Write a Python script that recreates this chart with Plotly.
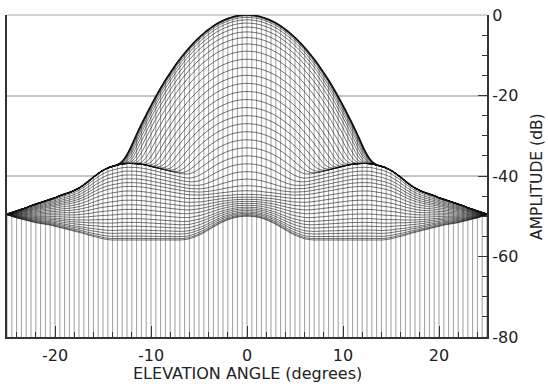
import numpy as np
import plotly.graph_objects as go

# Elevation sample positions (degrees, one side; pattern is symmetric)
THETA_HALF = [i * 0.5 for i in range(51)]

# Main-beam profile of the top cut (dB), theta = 0 .. 25 step 0.5
MAIN_DB = [0, -0.06, -0.22, -0.5, -0.9, -1.4, -2.0, -2.75, -3.6, -4.55,
           -5.6, -6.8, -8.1, -9.5, -11.0, -12.6, -14.4, -16.2, -18.2, -20.3,
           -22.5, -24.8, -27.2, -29.7, -32.4, -35.1, -38.0, -41.0, -44.1, -47.3,
           -50.6, -54.0, -57.5, -61.0, -65.0, -69.0, -73.0, -77.0,
           -80, -80, -80, -80, -80, -80, -80, -80, -80, -80, -80, -80, -80]

# Side-lobe ridge / envelope of the upper cuts (dB)
SIDE_TOP_DB = [-42.0, -42.0, -41.9, -41.8, -41.7, -41.5, -41.3, -41.1, -40.9, -40.7,
               -40.5, -40.2, -40.0, -39.7, -39.4, -39.1, -38.8, -38.5, -38.2, -37.9,
               -37.6, -37.3, -37.1, -36.95, -36.9, -36.9, -37.0, -37.3, -37.6, -38.0,
               -38.6, -39.4, -40.3, -41.3, -42.2, -43.0, -43.6, -44.1, -44.5, -44.9,
               -45.4, -45.8, -46.2, -46.6, -47.0, -47.4, -47.9, -48.3, -48.7, -49.1, -49.5]

# Lowest cut (front edge of the surface) (dB)
BOTTOM_DB = [-50.0, -50.05, -50.2, -50.5, -50.9, -51.4, -52.0, -52.7, -53.4, -54.1,
             -54.7, -55.2, -55.6, -55.8, -55.9,
             -55.9, -55.9, -55.9, -55.9, -55.9, -55.9, -55.9, -55.9, -55.9, -55.9,
             -55.9, -55.9, -55.9, -55.9,
             -55.8, -55.6, -55.3, -55.0, -54.7, -54.3, -54.0, -53.7, -53.4, -53.1,
             -52.8, -52.5, -52.2, -52.0, -51.8, -51.6, -51.3, -51.0, -50.7, -50.4,
             -50.0, -49.6]

# Per-cut level of the main beam at 0 deg and its side-lobe mix
CUT_PEAK_DB = [0, -0.2, -0.6, -1.2, -2.0, -3.0, -4.2, -5.6, -7.2, -9.0,
               -11.0, -13.0, -15.0, -17.0, -19.0, -21.0, -23.0, -25.0, -27.0, -29.0,
               -31.0, -33.0,
               -35.0, -37.0, -39.0, -41.0, -43.0, -45.0, -47.0, -49.0, -51.0, -53.0,
               -55.0, -57.0, -59.0, -61.0, -63.0, -66.0, -69.0, -72.0, -76.0, -80.0]
CUT_SIDE_MIX = [1, 1, 1, 1, 1, 1, 1, 1, 1, 1,
                1, 1, 1, 1, 1, 1, 1, 1, 1, 1,
                1, 1,
                0.95, 0.90, 0.85, 0.80, 0.75, 0.70, 0.64, 0.58, 0.52, 0.46,
                0.40, 0.34, 0.28, 0.23, 0.18, 0.13, 0.09, 0.05, 0.02, 0.0]

X_TICKS = [-20, -10, 0, 10, 20]
Y_TICKS = [0, -20, -40, -60, -80]


def mirror(v):
    return list(reversed(v[1:])) + list(v)


theta = [-t for t in reversed(THETA_HALF[1:])] + THETA_HALF
main = np.array(mirror(MAIN_DB))
side_top = np.array(mirror(SIDE_TOP_DB))
bottom = np.array(mirror(BOTTOM_DB))

curves = []
for dm, s in zip(CUT_PEAK_DB, CUT_SIDE_MIX):
    side = bottom + s * (side_top - bottom)
    beam = main + dm
    y = (10 / 3) * np.log10(10 ** (0.3 * beam) + 10 ** (0.3 * side))
    curves.append(y)
top = curves[0]

fig = go.Figure()

# white mask below the envelope (hides grid lines behind the mesh)
fig.add_trace(go.Scatter(
    x=theta + theta[::-1], y=list(top) + [-80] * len(theta),
    fill="toself", fillcolor="white", mode="lines", line=dict(width=0),
    hoverinfo="skip"))

# vertical elevation lines of the surface, down to the base
vx, vy = [], []
for t, v in zip(theta, top):
    vx += [t, t, None]
    vy += [-80, v, None]
fig.add_trace(go.Scatter(x=vx, y=vy, mode="lines",
                         line=dict(color="rgba(0,0,0,0.5)", width=0.75),
                         hoverinfo="skip"))

for y in curves[::-1]:
    fig.add_trace(go.Scatter(x=theta, y=y, mode="lines",
                             line=dict(color="rgba(15,15,15,0.78)", width=0.75,
                                       shape="spline", smoothing=0.8),
                             hoverinfo="skip"))

fig.add_trace(go.Scatter(x=theta, y=top, mode="lines",
                         line=dict(color="#111", width=1.7, shape="spline", smoothing=0.8),
                         hoverinfo="skip"))

font = dict(family="DejaVu Sans", size=16, color="#222")
fig.update_layout(
    width=548, height=386,
    margin=dict(l=7, r=61, t=15, b=49, autoexpand=False),
    paper_bgcolor="white", plot_bgcolor="white",
    showlegend=False, font=font,
    xaxis=dict(range=[-25, 25], tickmode="array", tickvals=X_TICKS,
               ticktext=[f"{v}" for v in X_TICKS],
               ticks="inside", ticklen=11, tickwidth=1.3, tickcolor="#333",
               minor=dict(tickmode="linear", tick0=0, dtick=2, ticks="inside",
                          ticklen=5, tickwidth=1, tickcolor="#333"),
               showline=True, linecolor="#333", linewidth=2, mirror=False,
               showgrid=False, zeroline=False, tickfont=font, automargin=False,
               ticklabelstandoff=3),
    yaxis=dict(range=[-80, 0], side="right", tickmode="array", tickvals=Y_TICKS,
               ticktext=[f"{v}" for v in Y_TICKS],
               ticks="inside", ticklen=9, tickwidth=1.3, tickcolor="#333",
               minor=dict(tickmode="linear", tick0=0, dtick=5, ticks="inside",
                          ticklen=5, tickwidth=1, tickcolor="#333"),
               showline=True, linecolor="#333", linewidth=2, mirror=True,
               showgrid=True, gridcolor="#c4c4c4", gridwidth=1.5, zeroline=False,
               tickfont=font, automargin=False, ticklabelstandoff=0),
    shapes=[dict(type="line", xref="paper", yref="paper", x0=0, x1=1, y0=1, y1=1,
                 line=dict(color="#c4c4c4", width=1.5), layer="below")],
    annotations=[
        dict(text="ELEVATION ANGLE (degrees)", xref="paper", yref="paper",
             x=0.5, y=-0.112, xanchor="center", yanchor="middle",
             showarrow=False, font=font),
        dict(text="AMPLITUDE (dB)", xref="paper", yref="paper",
             x=1.104, y=0.5, xanchor="center", yanchor="middle", textangle=-90,
             showarrow=False, font=dict(family="DejaVu Sans", size=15.5, color="#222")),
    ],
)

fig.write_html("out.html", config={"displayModeBar": False},
               post_script="document.body.style.margin='0px';document.body.style.overflow='hidden';")
